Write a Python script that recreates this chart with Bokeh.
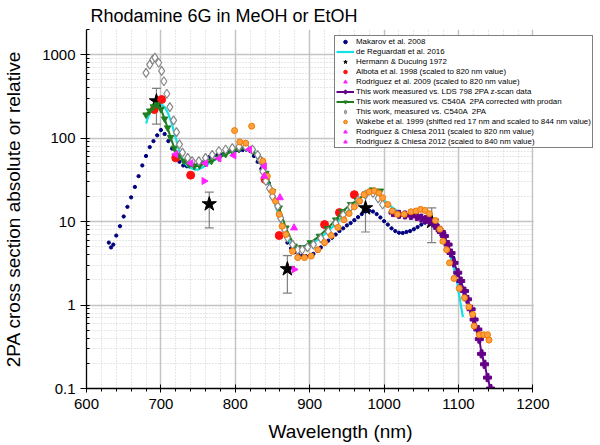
from bokeh.plotting import figure
from bokeh.models import (ColumnDataSource, Legend, LegendItem, Whisker, TeeHead, BoxAnnotation,
                          SingleIntervalTicker, CustomJSTickFormatter, Range1d)
from bokeh.embed import file_html
from bokeh.resources import INLINE

FONT = "Liberation Sans"

# ---------------- data ----------------
makarov_x = [630, 633, 636, 640, 645, 650, 655, 660, 665, 670, 675, 680, 685, 690, 695, 700, 705, 710,
             715, 720, 725, 730, 735, 740, 745, 750, 755, 760, 765, 770, 775, 780, 785, 790, 795, 800,
             805, 810, 815, 820, 825, 830, 835, 840, 845, 850, 855, 860, 865, 870, 875, 880, 885, 890,
             895, 900, 905, 910, 915, 920, 925, 930, 935, 940, 945, 950, 955, 960, 965, 970, 975, 980,
             985, 990, 995, 1000, 1005, 1010, 1015, 1020, 1025, 1030, 1035, 1040, 1045, 1050, 1055,
             1060, 1065, 1070, 1075, 1080, 1085, 1090, 1093]
makarov_y = [5.6, 4.9, 5.3, 6.8, 8.8, 11.5, 15, 19.5, 26, 35, 47, 61, 78, 92, 108, 125, 112, 92, 75, 61,
             52, 47, 46, 46, 47, 48, 51, 55, 59, 61, 62, 63, 65, 68, 70, 71, 71, 72, 73, 70,
             61, 52, 43, 36, 29, 23, 16.5, 11, 8, 5.6, 4.8, 4.3, 4.0, 3.9, 3.85, 3.9, 4.1, 4.5, 4.9, 5.4,
             5.9, 6.4, 7.0, 7.7, 8.3, 9.0, 9.6, 10.4, 11.3, 12.3, 13.2, 13.5, 13.2, 12.3, 11.2, 10.1, 9.2,
             8.3, 7.7, 7.35, 7.3, 7.5, 7.7, 8.1, 8.6, 9.2, 9.7, 10.1, 10.5, 9.6, 8.2, 6.8, 5.5, 4.3, 3.7]

cyan_x = [680, 685, 690, 695, 700, 705, 710, 715, 720, 725, 730, 735, 740, 745, 750, 755, 760, 770, 780,
          790, 800, 810, 815, 820, 825, 830, 835, 840, 845, 850, 855, 860, 865, 870, 875, 880, 885, 890,
          895, 900, 910, 920, 930, 940, 950, 960, 970, 975, 980, 985, 990, 995, 1000, 1010, 1020, 1030,
          1040, 1050, 1060, 1065, 1070, 1075, 1080, 1085, 1090, 1095, 1098, 1101, 1104, 1106]
cyan_y = [150, 200, 240, 258, 255, 235, 195, 145, 100, 68, 54, 47, 44, 42, 42, 44, 47, 53, 60, 66, 72,
          76, 77, 76, 70, 60, 48, 37, 28, 20, 14.5, 10.5, 8, 6.3, 5.4, 4.9, 4.7, 4.7, 4.9, 5.2, 6.0, 7.0,
          8.5, 10.5, 13, 16.5, 20, 22, 23, 23, 22, 20, 18, 15, 13, 12, 11.5, 11.5, 11, 10.5, 9.5, 8, 6.5,
          5, 3.6, 2.5, 1.9, 1.3, 0.9, 0.72]

star_x = [694, 765, 870, 975, 1064]
star_y = [277, 16.2, 2.7, 14.5, 10]
star_lo = [147, 8.4, 1.39, 7.5, 5.6]
star_hi = [395, 22.5, 3.9, 21.5, 14.6]

red_x = [691, 701, 720, 740, 840, 859, 920, 940, 960]
red_y = [220, 290, 58, 36, 32, 6.8, 9.2, 12.8, 21]

r09_x = [758, 879]
r09_y = [30.6, 2.67]

purple_x = [1012, 1020, 1028, 1036, 1044, 1050, 1056, 1061, 1066, 1072, 1077, 1081, 1086, 1090, 1094,
            1099, 1103, 1108, 1112, 1117, 1121, 1126, 1128, 1131, 1135, 1139, 1143]
purple_y = [12.8, 12.2, 12.0, 11.8, 11.5, 11.0, 10.6, 10.4, 9.6, 8.4, 7.5, 6.7, 5.3, 4.2, 3.2, 2.44,
            1.94, 1.47, 1.17, 0.89, 0.67, 0.51, 0.39, 0.26, 0.195, 0.135, 0.1]

green_x = [680, 685, 690, 695, 700, 705, 709, 713, 718, 724, 731, 738, 745, 752, 760, 768, 778, 787, 796,
           805, 814, 823, 832, 841, 850, 859, 868, 879, 890, 901, 913, 924, 935, 944, 955, 964, 975, 984, 995]
green_y = [190, 212, 238, 252, 222, 170, 133, 102, 76, 62, 53, 48, 46, 47, 50, 53, 58, 64, 70, 74, 76, 70,
           56, 38, 23, 14.6, 8.4, 5.1, 4.9, 5.6, 6.7, 8.3, 10.5, 13.2, 16.1, 18, 21.5, 24, 23.3]

dia_x = [680, 685, 689, 692, 697, 701, 704, 708, 712, 717, 721, 725, 729, 736, 742, 751, 760, 769, 778,
         787, 796, 805, 814, 823, 830, 834, 837, 841, 846, 850, 857, 861, 866, 870, 877, 884, 890, 897,
         905, 915, 925, 935, 945, 955, 965, 975, 985, 992, 998]
dia_y = [605, 760, 870, 920, 800, 640, 480, 340, 235, 163, 118, 84, 67, 58, 53, 53, 58, 63, 70, 73, 76,
         79, 79, 73, 63, 54, 40, 30.6, 25, 20, 15.3, 11, 8.1, 6.4, 5.3, 4.6, 4.6, 4.9, 5.3, 6.3, 7.6,
         9.5, 12, 15, 18, 21, 22, 19, 16]

orange_x = [799, 806, 814, 822, 837, 843, 850, 854, 859, 863, 868, 877, 884, 893, 902, 911, 920, 929, 938,
            946, 953, 960, 967, 973, 980, 987, 993, 998, 1005, 1011, 1018, 1027, 1036, 1043, 1049, 1055,
            1061, 1069, 1075, 1079, 1084, 1088, 1094, 1101, 1108, 1114, 1119, 1121, 1128, 1134, 1139, 1141]
orange_y = [123, 90, 87, 139, 53, 35, 23, 17.6, 12.2, 8.8, 7.0, 4.4, 3.7, 3.7, 3.86, 4.6, 5.6, 6.8, 8.5,
            10.5, 12.5, 15, 17.6, 21, 22.7, 23.3, 22, 19.3, 16, 13.4, 12.2, 12.2, 13.1, 13.4, 14, 13.6,
            12.4, 10.3, 8.1, 5.8, 4.6, 3.2, 2.08, 1.58, 1.22, 0.95, 0.77, 0.56, 0.44, 0.44, 0.44, 0.38]

r11_x = [720, 740, 760, 778, 798, 819, 839]
r11_y = [64, 50, 50, 57, 62, 73, 46]

r12_x = [839, 860, 879]
r12_y = [35, 19.3, 8.4]

labels = ["Makarov et al. 2008",
          "de Reguardati et al. 2016",
          "Hermann & Ducuing 1972",
          "Albota et al. 1998 (scaled to 820 nm value)",
          "Rodriguez et al. 2009 (scaled to 820 nm value)",
          "This work measured vs. LDS 798 2PA z-scan data",
          "This work measured vs. C540A  2PA corrected with prodan",
          "This work, measured vs. C540A  2PA",
          "Wakebe et al. 1999 (shifted red 17 nm and scaled to 844 nm value)",
          "Rodriguez & Chiesa 2011 (scaled to 820 nm value)",
          "Rodriguez & Chiesa 2012 (scaled to 840 nm value)"]

# ---------------- figure ----------------
PX_PER_NM = 0.744
FW, FH = 508, 359
X0, X1 = 600, 1200
p = figure(frame_width=FW, frame_height=FH, output_backend="svg", toolbar_location=None,
           x_range=Range1d(X0, X0 + FW / PX_PER_NM), y_range=Range1d(0.1, 2000), y_axis_type="log",
           min_border_left=76, min_border_right=0, min_border_top=27, min_border_bottom=40)
p.outline_line_color = None
p.background_fill_color = "white"
p.border_fill_color = "white"

# title
p.title.text = "Rhodamine 6G in MeOH or EtOH"
p.title.text_font = FONT
p.title.text_font_size = "18px"
p.title.text_font_style = "normal"
p.title.text_color = "black"
p.title.align = "left"
p.title.offset = 4
p.title.standoff = 7

# axes
p.xaxis.ticker = SingleIntervalTicker(interval=100, num_minor_ticks=5)
p.xaxis.bounds = (X0, X1)
p.yaxis.formatter = CustomJSTickFormatter(code="return String(Number(tick.toPrecision(6)));")
for ax in (p.xaxis[0], p.yaxis[0]):
    ax.axis_line_color = "black"
    ax.axis_line_width = 1.3
    ax.major_tick_line_color = "black"
    ax.minor_tick_line_color = "black"
    ax.major_label_text_font = FONT
    ax.major_label_text_font_size = "15px"
    ax.major_label_text_color = "black"
    ax.axis_label_text_font = FONT
    ax.axis_label_text_font_size = "19px"
    ax.axis_label_text_font_style = "normal"
    ax.axis_label_text_color = "black"
p.xaxis.axis_label = "Wavelength (nm)"
p.yaxis.axis_label = "2PA cross section absolute or relative"
p.xaxis.major_tick_in = 4
p.xaxis.major_tick_out = 4
p.xaxis.minor_tick_in = 0
p.xaxis.minor_tick_out = 3
p.xaxis.major_label_standoff = 6
p.xaxis.axis_label_standoff = 9
p.yaxis.major_tick_in = 0
p.yaxis.major_tick_out = 6
p.yaxis.minor_tick_in = 3
p.yaxis.minor_tick_out = 0
p.yaxis.major_label_standoff = 5
p.yaxis.axis_label_standoff = 15

# grid
for g in (p.xgrid[0], p.ygrid[0]):
    g.grid_line_color = "#c4c4c4"
    g.grid_line_width = 1.5
    g.minor_grid_line_color = "#cfcfcf"
    g.minor_grid_line_dash = "1 2"
    g.minor_grid_line_width = 1

# blank out the grid beyond the end of the wavelength axis (room kept for the legend)
p.add_layout(BoxAnnotation(left=X1 + 1.2, fill_color="white", fill_alpha=1, line_color=None,
                           level="underlay"))

# ---------------- series ----------------
r_mak = p.scatter(makarov_x, makarov_y, marker="circle", size=3.3, fill_color="#000080",
                  line_color="#000080")
r_cyan = p.line(cyan_x, cyan_y, line_color="#14e0e8", line_width=2.2)

err = ColumnDataSource(dict(x=star_x, lo=star_lo, hi=star_hi))
p.add_layout(Whisker(source=err, base="x", upper="hi", lower="lo", line_color="#808080",
                     line_width=1.2,
                     upper_head=TeeHead(size=9, line_color="#808080", line_width=1.2),
                     lower_head=TeeHead(size=9, line_color="#808080", line_width=1.2)))
r_star = p.scatter(star_x, star_y, marker="star", size=15, fill_color="black", line_color="black")

r_red = p.scatter(red_x, red_y, marker="circle", size=8, fill_color="#ff1010", line_color="#ff1010")
r_r09 = p.scatter(r09_x, r09_y, marker="triangle", angle=-1.5708, size=7, fill_color="#ff22ff",
                  line_color="#ff22ff")

r_pl = p.line(purple_x, purple_y, line_color="#660088", line_width=2)
r_pm = p.scatter(purple_x, purple_y, marker="plus", size=8, fill_color="#660088", line_color="#660088")

r_gl = p.line(green_x, green_y, line_color="#1f7f1f", line_width=2)
r_gm = p.scatter(green_x, green_y, marker="inverted_triangle", size=6.5, fill_color="#1f7f1f",
                 line_color="#1f7f1f")

r_dia = p.scatter(dia_x, dia_y, marker="diamond", size=9, fill_color="white", line_color="#888888",
                  line_width=1.2)

r_or = p.scatter(orange_x, orange_y, marker="circle", size=6, fill_color="#ffa040",
                 line_color="#f07800", line_width=1)

r_r11 = p.scatter(r11_x, r11_y, marker="triangle", angle=1.5708, size=7, fill_color="#ff22ff",
                  line_color="#ff22ff")
r_r12 = p.scatter(r12_x, r12_y, marker="triangle", size=7, fill_color="#ff22ff", line_color="#ff22ff")

# ---------------- legend ----------------
rend = [[r_mak], [r_cyan], [r_star], [r_red], [r_r09], [r_pl, r_pm], [r_gl, r_gm], [r_dia], [r_or],
        [r_r11], [r_r12]]
items = [LegendItem(label=lab, renderers=r) for lab, r in zip(labels, rend)]
legend = Legend(items=items, location=(248, 240), orientation="vertical",
                label_text_font=FONT, label_text_font_size="7.9px", label_text_color="black",
                glyph_width=18, glyph_height=9, label_height=9, label_standoff=2,
                spacing=1, padding=1, margin=0,
                border_line_color="black", border_line_width=1,
                background_fill_color="white", background_fill_alpha=1)
p.add_layout(legend, "center")

open("out.html", "w").write(file_html(p, INLINE))
